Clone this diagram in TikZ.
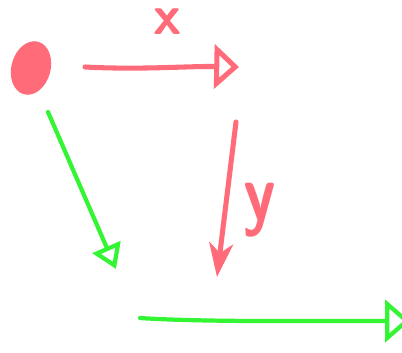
\documentclass[tikz,border=0pt]{standalone}
\usetikzlibrary{arrows.meta,shapes.geometric}
\definecolor{redpen}{HTML}{FF6B78}
\definecolor{greenpen}{HTML}{33F533}

\tikzset{
  pen/.style={line width=3.6pt, line cap=round, line join=round},
  redline/.style={pen, draw=redpen},
  greenline/.style={pen, draw=greenpen, line width=3pt},
  hand/.style={text=redpen, font=\sffamily, inner sep=0pt}
}

\begin{document}
\begin{tikzpicture}[x=0.025cm, y=-0.025cm]
            \useasboundingbox (0,0) rectangle (402,353);

            % Draw dot and labels
            \node[ellipse, fill=redpen, minimum width=0.98cm, minimum height=1.36cm, inner sep=0pt, rotate=-15] (dot) at (31,68) {};
            \node[hand, font=\sffamily\bfseries\fontsize{40}{40}\selectfont] (xlab) at (168,22) {x};
            \node[hand, font=\sffamily\bfseries\fontsize{58}{58}\selectfont, xscale=0.8] (ylab) at (260,210) {y};

            % Free ends
            \coordinate (xs) at (85,67);
            \coordinate (xe) at (239,67);
            \coordinate (ys) at (236,122);
            \coordinate (ye) at (217,277);
            \coordinate (ds) at (48,112);
            \coordinate (de) at (116,269);
            \coordinate (hs) at (140,318);
            \coordinate (he) at (410,321);

            % Connect with arrows
            \draw[redline, -{Triangle[open, length=0.62cm, width=1.1cm]}] (xs) .. controls (140,70) and (190,66) .. (xe);
            \draw[redline, -{Stealth[length=0.85cm, width=0.6cm, inset=0.25cm]}] (ys) -- (ye);
            \draw[greenline, -{Triangle[open, length=0.6cm, width=0.75cm]}] (ds) -- (de);
            \draw[greenline, -{Triangle[open, length=0.62cm, width=1.05cm]}] (hs) .. controls (200,322) and (300,321) .. (he);
          \end{tikzpicture}
\end{document}
